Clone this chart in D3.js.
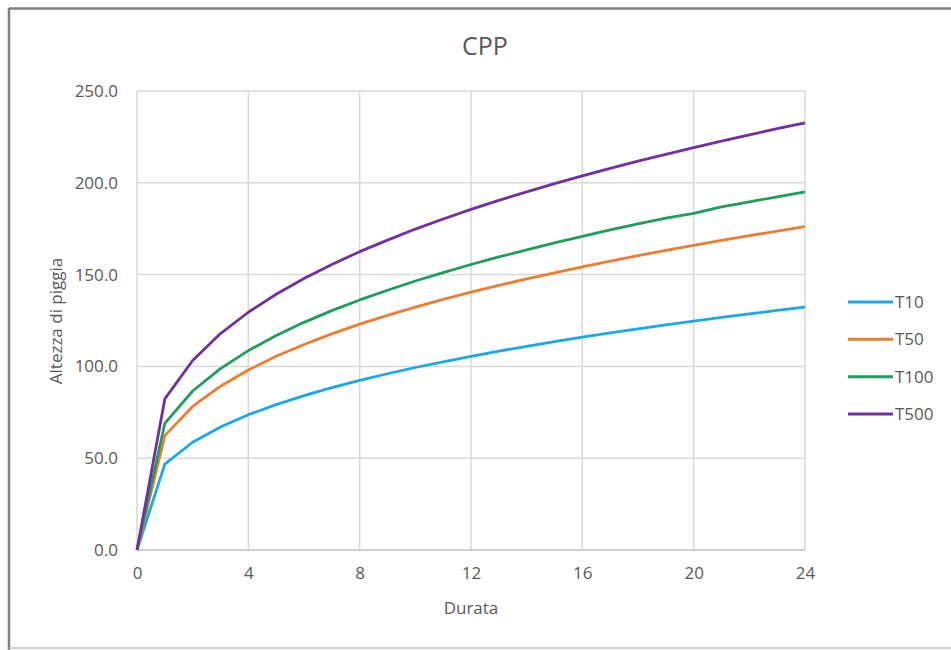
<!DOCTYPE html>
<html>
<head>
<meta charset="utf-8">
<script src="https://cdn.jsdelivr.net/npm/d3@7/dist/d3.min.js"></script>
<style>
  html, body { margin: 0; padding: 0; background: #ffffff; }
  svg { display: block; }
  text { font-family: "Open Sans", "Noto Sans", sans-serif; fill: #595959; }
</style>
</head>
<body>
<svg id="chart" width="951" height="650"></svg>
<script>
// Durations (hours)
const durations = [0, 1, 2, 3, 4, 5, 6, 7, 8, 9, 10, 11, 12, 13, 14, 15, 16, 17, 18, 19, 20, 21, 22, 23, 24];

// Rainfall depth for each return period
const t10  = [0, 46.8, 58.7, 67.0, 73.7, 79.2, 84.1, 88.4, 92.4, 96.0, 99.4, 102.5, 105.5, 108.3, 110.9, 113.5, 115.9, 118.2, 120.4, 122.6, 124.6, 126.7, 128.6, 130.5, 132.3];
const t50  = [0, 62.3, 78.2, 89.2, 98.0, 105.5, 111.9, 117.7, 123.0, 127.8, 132.3, 136.5, 140.4, 144.1, 147.7, 151.0, 154.2, 157.3, 160.3, 163.2, 165.9, 168.6, 171.2, 173.7, 176.1];
const t100 = [0, 69.0, 86.6, 98.8, 108.6, 116.8, 124.0, 130.4, 136.2, 141.5, 146.5, 151.1, 155.5, 159.6, 163.5, 167.3, 170.8, 174.3, 177.6, 180.7, 183.3, 186.9, 189.6, 192.4, 195.1];
const t500 = [0, 82.3, 103.2, 117.9, 129.5, 139.3, 147.9, 155.5, 162.5, 168.8, 174.8, 180.3, 185.5, 190.4, 195.1, 199.5, 203.8, 207.9, 211.8, 215.5, 219.2, 222.7, 226.1, 229.5, 232.7];

const seriesNames = ["T10", "T50", "T100", "T500"];
const seriesColors = ["#1aa7ec", "#ed7d31", "#1e9d5c", "#7030a0"];
const seriesValues = [t10, t50, t100, t500];

const xTicks = [0, 4, 8, 12, 16, 20, 24];
const yTicks = [0, 50, 100, 150, 200, 250];

const title = "CPP";
const xTitle = "Durata";
const yTitle = "Altezza di piggia";

const svg = d3.select("#chart");

// Outer chart frame
svg.append("line").attr("x1", 9).attr("x2", 951).attr("y1", 8.5).attr("y2", 8.5)
  .attr("stroke", "#7f7f7f").attr("stroke-width", 2.5);
svg.append("line").attr("x1", 9).attr("x2", 9).attr("y1", 8).attr("y2", 650)
  .attr("stroke", "#7f7f7f").attr("stroke-width", 2.5);
svg.append("line").attr("x1", 9).attr("x2", 951).attr("y1", 648).attr("y2", 648)
  .attr("stroke", "#bfbfbf").attr("stroke-width", 1.5);

const plot = { left: 137, right: 805, top: 91, bottom: 550 };

const x = d3.scaleLinear().domain([0, 24]).range([plot.left, plot.right]);
const y = d3.scaleLinear().domain([0, 250]).range([plot.bottom, plot.top]);

// Gridlines
const grid = svg.append("g");
grid.selectAll("line.h").data(yTicks).join("line")
  .attr("x1", plot.left).attr("x2", plot.right)
  .attr("y1", d => y(d)).attr("y2", d => y(d))
  .attr("stroke", "#d9d9d9").attr("stroke-width", 1.5);
grid.selectAll("line.v").data(xTicks).join("line")
  .attr("x1", d => x(d)).attr("x2", d => x(d))
  .attr("y1", plot.top).attr("y2", plot.bottom)
  .attr("stroke", "#d9d9d9").attr("stroke-width", 1.5);

// Axes (labels only; the frame lines come from the grid)
const yAxis = d3.axisLeft(y).tickValues(yTicks).tickFormat(d3.format(".1f")).tickSize(0).tickPadding(19);
svg.append("g").attr("transform", `translate(${plot.left},0)`).call(yAxis)
  .call(g => g.select(".domain").remove())
  .selectAll("text").attr("font-size", 17).style("font-family", "'Open Sans', sans-serif").attr("fill", "#595959");

const xAxis = d3.axisBottom(x).tickValues(xTicks).tickFormat(d3.format("d")).tickSize(0).tickPadding(17);
svg.append("g").attr("transform", `translate(0,${plot.bottom})`).call(xAxis)
  .call(g => g.select(".domain").remove())
  .selectAll("text").attr("font-size", 17).style("font-family", "'Open Sans', sans-serif").attr("fill", "#595959");

// Bottom axis line
svg.append("line").attr("x1", plot.left).attr("x2", plot.right)
  .attr("y1", plot.bottom).attr("y2", plot.bottom)
  .attr("stroke", "#cfcfcf").attr("stroke-width", 2);

// Series lines
const line = d3.line().x((d, i) => x(durations[i])).y(d => y(d));
svg.append("g").selectAll("path").data(seriesValues).join("path")
  .attr("d", d => line(d))
  .attr("fill", "none")
  .attr("stroke", (d, i) => seriesColors[i])
  .attr("stroke-width", 2.8)
  .attr("stroke-linejoin", "round");

// Titles
svg.append("text").attr("x", 485).attr("y", 55).attr("text-anchor", "middle")
  .attr("font-size", 25).text(title);
svg.append("text").attr("x", 471).attr("y", 614).attr("text-anchor", "middle")
  .attr("font-size", 17).text(xTitle);
svg.append("text").attr("transform", "translate(62,321) rotate(-90)").attr("text-anchor", "middle")
  .attr("font-size", 17).text(yTitle);

// Legend
const legendY = d3.scalePoint().domain(seriesNames).range([302, 414]);
const legend = svg.append("g").selectAll("g").data(seriesNames).join("g")
  .attr("transform", d => `translate(0,${legendY(d)})`);
legend.append("line").attr("x1", 848).attr("x2", 893).attr("y1", 0).attr("y2", 0)
  .attr("stroke", (d, i) => seriesColors[i]).attr("stroke-width", 3);
legend.append("text").attr("x", 895).attr("y", 6).attr("font-size", 17).text(d => d);
</script>
</body>
</html>
